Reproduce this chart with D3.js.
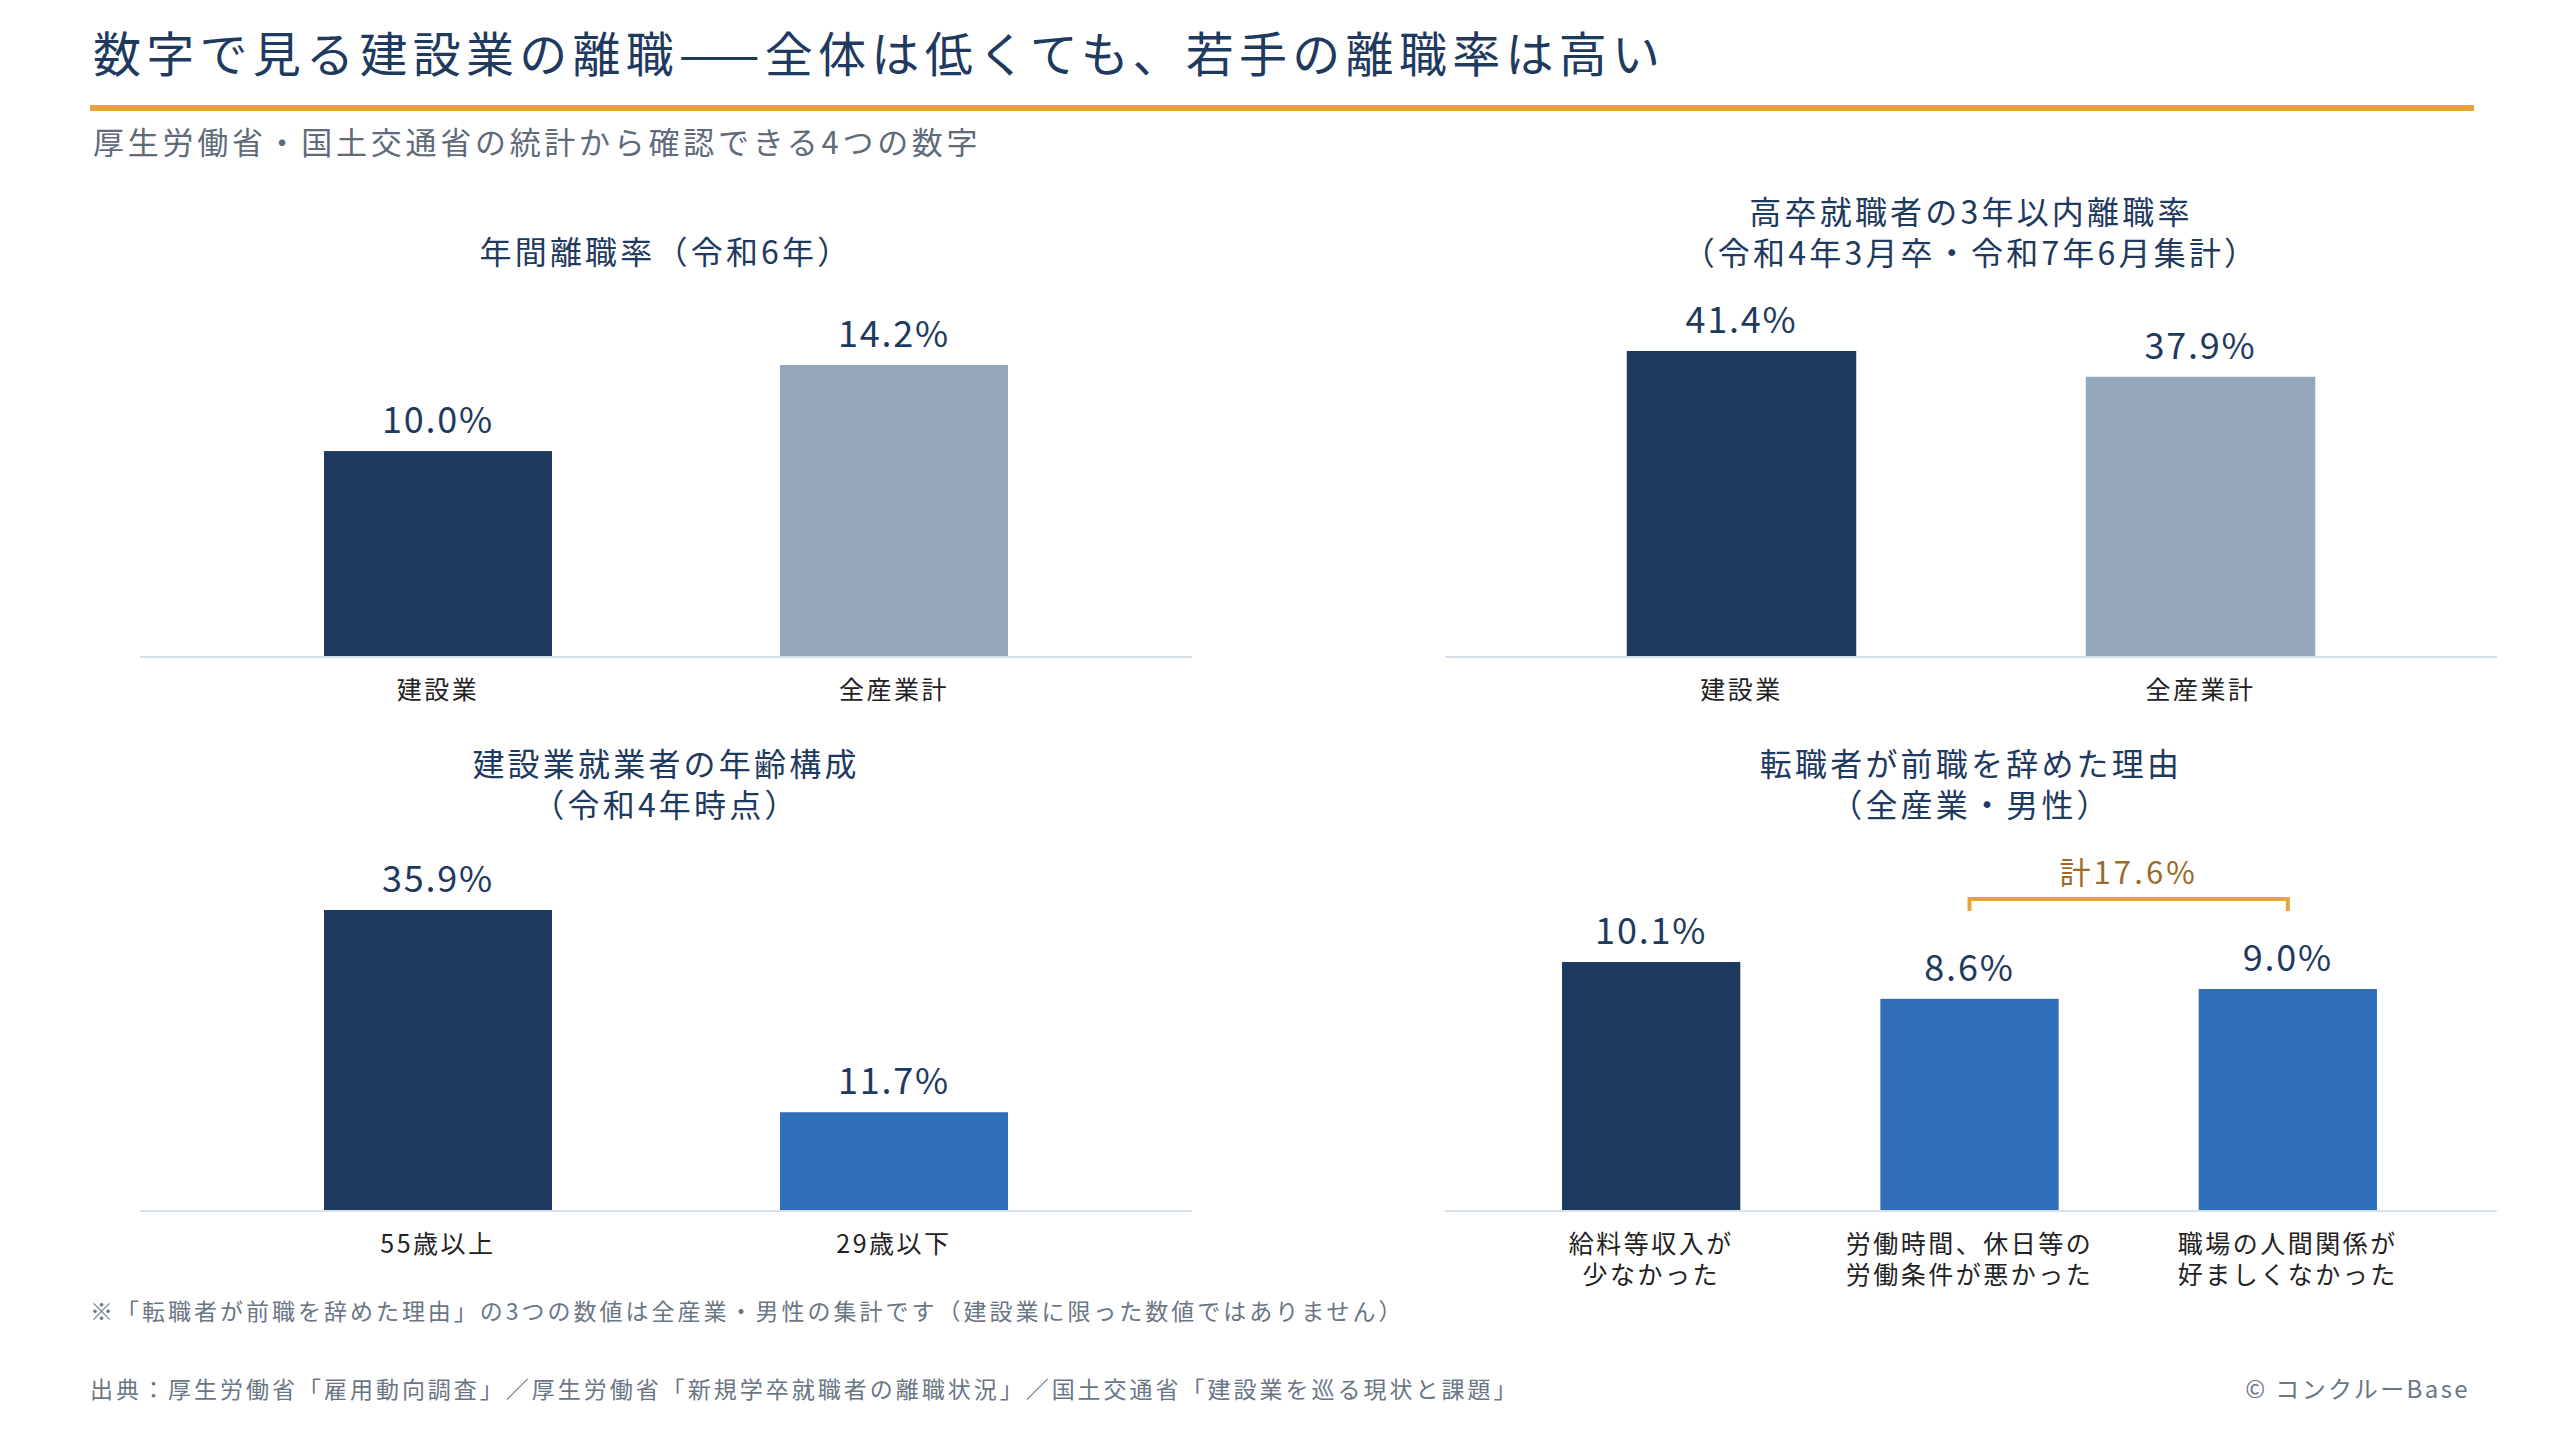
<!DOCTYPE html>
<html><head><meta charset="utf-8">
<script src="https://cdn.jsdelivr.net/npm/d3@7"></script>
<style>body{margin:0;background:#fff}svg{display:block;font-family:"Noto Sans CJK JP","Noto Sans",sans-serif}text{letter-spacing:0.1em}</style>
</head><body><svg id="c" width="2560" height="1440"></svg>
<script>
const p1Cats=["建設業","全産業計"], p1Vals=[10.0,14.2], p1Cols=["#1f3a5f","#94a7bb"];
const p2Cats=["建設業","全産業計"], p2Vals=[41.4,37.9], p2Cols=["#1f3a5f","#94a7bb"];
const p3Cats=["55歳以上","29歳以下"], p3Vals=[35.9,11.7], p3Cols=["#1f3a5f","#2e6fb7"];
const p4Cats=[["給料等収入が","少なかった"],["労働時間、休日等の","労働条件が悪かった"],["職場の人間関係が","好ましくなかった"]], p4Vals=[10.1,8.6,9.0], p4Cols=["#1f3a5f","#2e6fb7","#2e6fb7"];
const bracketLabel="計17.6%";

const svg=d3.select("#c");
const navy="#1f3a5f";
svg.append("text").attr("x",93).attr("y",72).attr("font-size",48).attr("fill",navy).attr("font-weight",400).style("letter-spacing","0.11em")
 .text("数字で見る建設業の離職——全体は低くても、若手の離職率は高い");
svg.append("rect").attr("x",90).attr("y",105).attr("width",2384).attr("height",6).attr("fill","#e8a33d");
svg.append("text").attr("x",93).attr("y",154).attr("font-size",31).attr("fill","#5f6b7a").style("letter-spacing","0.12em").text("厚生労働省・国土交通省の統計から確認できる4つの数字");

function panel(o){
  const g=svg.append("g");
  const x=d3.scaleBand().domain(d3.range(o.vals.length)).range(o.xr).paddingInner(o.pad).paddingOuter(o.pad/2);
  const y=d3.scaleLinear().domain([0,d3.max(o.vals)]).range([o.base,o.base-o.h]);
  o.title.forEach((t,i)=>g.append("text").attr("x",o.tx).attr("y",o.ty+i*41).attr("text-anchor","middle").attr("font-size",32).attr("fill",navy).text(t));
  g.selectAll("rect.b").data(o.vals).join("rect").attr("x",(d,i)=>x(i)).attr("width",x.bandwidth())
   .attr("y",d=>y(d)).attr("height",d=>o.base-y(d)).attr("fill",(d,i)=>o.cols[i]);
  g.append("line").attr("x1",o.ax[0]).attr("x2",o.ax[1]).attr("y1",o.base+1).attr("y2",o.base+1).attr("stroke","#d8e0ea").attr("stroke-width",2);
  g.selectAll("text.v").data(o.vals).join("text").attr("x",(d,i)=>x(i)+x.bandwidth()/2).attr("y",d=>y(d)-18)
   .attr("text-anchor","middle").attr("font-size",36).attr("fill",navy).style("letter-spacing","0.05em").text(d=>d.toFixed(1)+"%");
  o.cats.forEach((c,i)=>{const lines=Array.isArray(c)?c:[c];
    lines.forEach((l,j)=>g.append("text").attr("x",x(i)+x.bandwidth()/2).attr("y",o.base+43+j*31).attr("text-anchor","middle").attr("font-size",25).attr("fill","#222").text(l));});
  return {x,y};
}
panel({vals:p1Vals,cats:p1Cats,cols:p1Cols,xr:[210,1122],pad:0.5,ax:[140,1192],base:656,h:291,title:["年間離職率（令和6年）"],tx:666,ty:264});
panel({vals:p2Vals,cats:p2Cats,cols:p2Cols,xr:[1512,2430],pad:0.5,ax:[1445,2497],base:656,h:305,title:["高卒就職者の3年以内離職率","（令和4年3月卒・令和7年6月集計）"],tx:1971,ty:224});
panel({vals:p3Vals,cats:p3Cats,cols:p3Cols,xr:[210,1122],pad:0.5,ax:[140,1192],base:1210,h:300,title:["建設業就業者の年齢構成","（令和4年時点）"],tx:666,ty:776});
const s4=panel({vals:p4Vals,cats:p4Cats,cols:p4Cols,xr:[1492,2447],pad:0.44,ax:[1445,2497],base:1210,h:248,title:["転職者が前職を辞めた理由","（全産業・男性）"],tx:1971,ty:776});
const bx1=s4.x(1)+s4.x.bandwidth()/2, bx2=s4.x(2)+s4.x.bandwidth()/2;
svg.append("path").attr("d",`M${bx1},911V899H${bx2}V911`).attr("fill","none").attr("stroke","#e8a33d").attr("stroke-width",4);
svg.append("text").attr("x",(bx1+bx2)/2).attr("y",884).attr("text-anchor","middle").attr("font-size",31).attr("fill","#9a6a2a").text(bracketLabel);

svg.append("text").attr("x",90).attr("y",1320).attr("font-size",23).attr("fill","#6b7684").style("letter-spacing","0.13em").text("※「転職者が前職を辞めた理由」の3つの数値は全産業・男性の集計です（建設業に限った数値ではありません）");
svg.append("text").attr("x",90).attr("y",1398).attr("font-size",23).attr("fill","#6b7684").style("letter-spacing","0.13em").text("出典：厚生労働省「雇用動向調査」／厚生労働省「新規学卒就職者の離職状況」／国土交通省「建設業を巡る現状と課題」");
svg.append("text").attr("x",2470).attr("y",1398).attr("text-anchor","end").attr("font-size",24).attr("fill","#6b7684").text("© コンクルーBase");
</script></body></html>
